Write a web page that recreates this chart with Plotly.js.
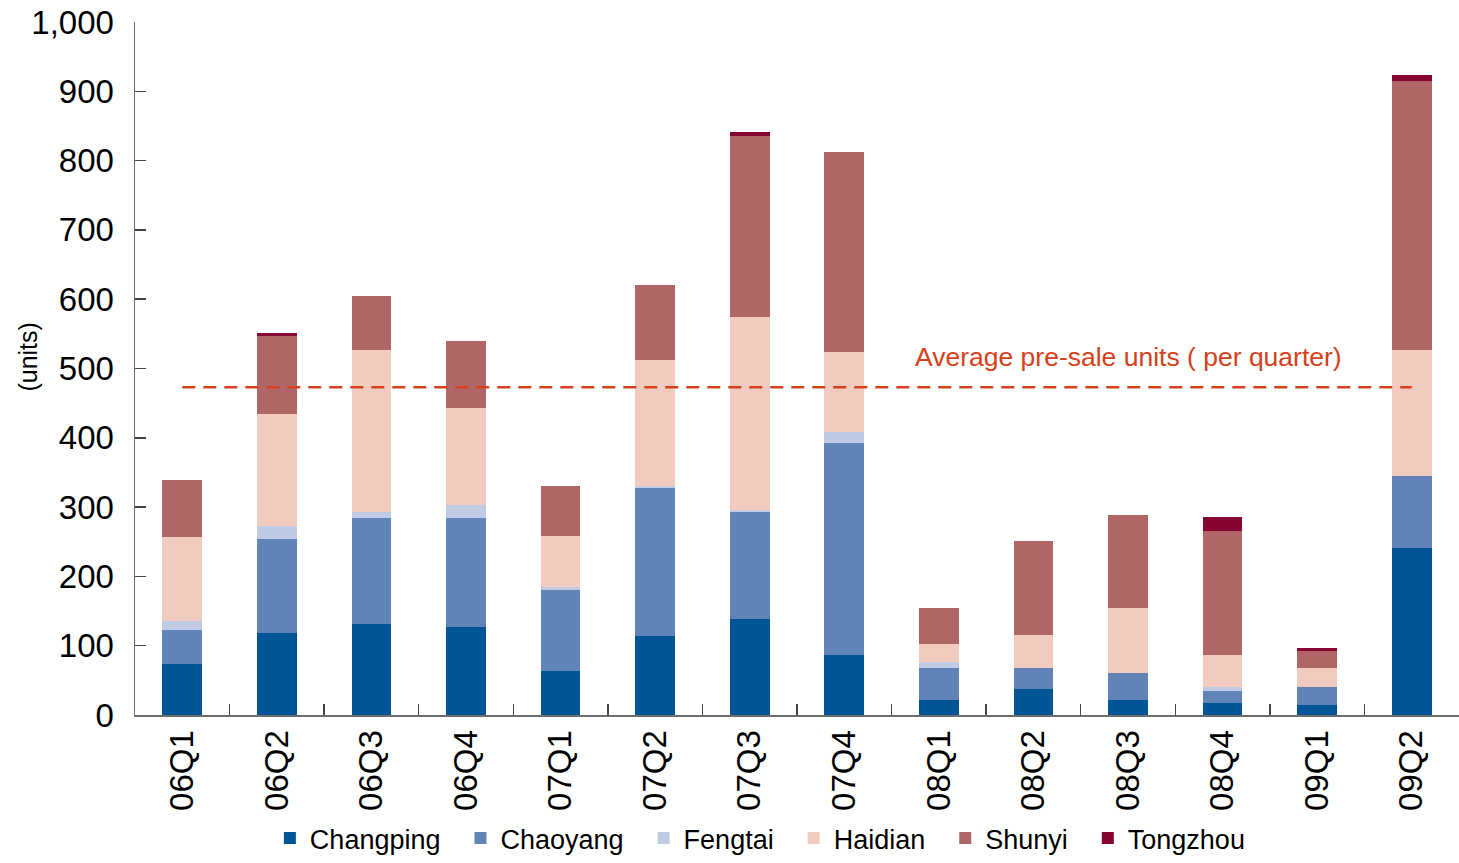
<!DOCTYPE html>
<html>
<head>
<meta charset="utf-8">
<script src="https://cdn.plot.ly/plotly-3.0.1.min.js"></script>
<style>
  body { margin: 0; background: #fff; }
  #chart { width: 1459px; height: 863px; }
</style>
</head>
<body>
<div id="chart"></div>
<script>
// quarters on the x axis
var quarters = ["06Q1","06Q2","06Q3","06Q4","07Q1","07Q2","07Q3","07Q4","08Q1","08Q2","08Q3","08Q4","09Q1","09Q2"];

// pre-sale units per district
var changping = [74, 118, 131, 127, 64, 114, 138, 87, 22, 38, 22, 18, 15, 241];
var chaoyang  = [49, 136, 153, 157, 116, 213, 155, 305, 46, 30, 39, 16, 26, 104];
var fengtai   = [12, 19, 9, 19, 4, 3, 3, 16, 8, 0, 0, 7, 0, 0];
var haidian   = [122, 161, 234, 140, 74, 182, 278, 116, 26, 47, 93, 46, 27, 182];
var shunyi    = [82, 113, 78, 97, 73, 108, 262, 288, 52, 136, 135, 178, 24, 388];
var tongzhou  = [0, 4, 0, 0, 0, 0, 5, 0, 0, 0, 0, 21, 4, 8];

// average pre-sale units per quarter
var average = [473, 473, 473, 473, 473, 473, 473, 473, 473, 473, 473, 473, 473, 473];

var FONT = 'Liberation Sans, Arial, sans-serif';
var PAD = '\u00a0\u00a0'; // a bit more room between legend entries

function barTrace(name, values, color){
  return {
    type: 'bar',
    name: name + PAD,
    x: quarters,
    y: values,
    marker: { color: color, line: { width: 0 } },
    hoverinfo: 'x+y+name'
  };
}

var data = [
  barTrace('Changping', changping, '#005596'),
  barTrace('Chaoyang',  chaoyang,  '#6084b7'),
  barTrace('Fengtai',   fengtai,   '#bfcbe3'),
  barTrace('Haidian',   haidian,   '#f2cbc0'),
  barTrace('Shunyi',    shunyi,    '#b06567'),
  barTrace('Tongzhou',  tongzhou,  '#870532'),
  {
    type: 'scatter',
    mode: 'lines',
    x: quarters,
    y: average,
    showlegend: false,
    line: { color: '#d6401a', width: 2.5, dash: '13px,8px' },
    hoverinfo: 'skip'
  }
];

var layout = {
  width: 1459,
  height: 863,
  barmode: 'stack',
  bargap: 0.58,
  margin: { l: 135, r: 0, t: 22, b: 148 },
  paper_bgcolor: '#ffffff',
  plot_bgcolor: '#ffffff',
  font: { family: FONT, color: '#000' },
  xaxis: {
    type: 'category',
    range: [-0.5, 13.5],
    showline: true,
    linecolor: '#6e6e6e',
    linewidth: 2,
    ticks: 'inside',
    tickson: 'boundaries',
    ticklen: 11,
    tickcolor: '#444',
    tickwidth: 1.5,
    tickangle: -90,
    tickfont: { size: 33, family: FONT },
    showgrid: false,
    zeroline: false
  },
  yaxis: {
    range: [0, 1000],
    dtick: 100,
    tickformat: ',d',
    showline: true,
    linecolor: '#6e6e6e',
    linewidth: 1.5,
    ticks: 'inside',
    ticklen: 11,
    tickcolor: '#444',
    tickwidth: 1.5,
    tickfont: { size: 33, family: FONT },
    ticklabelstandoff: 13,
    showgrid: false,
    zeroline: false
  },
  legend: {
    orientation: 'h',
    xref: 'paper',
    x: 0.478,
    xanchor: 'center',
    yref: 'container',
    y: 0,
    yanchor: 'bottom',
    font: { size: 27, family: FONT },
    traceorder: 'normal',
    itemwidth: 30
  },
  annotations: [
    {
      xref: 'paper', yref: 'paper',
      x: -0.093, y: 0.517,
      text: '(units)',
      textangle: -90,
      showarrow: false,
      font: { size: 25, family: FONT, color: '#000' }
    },
    {
      xref: 'x', yref: 'y',
      x: '08Q3', y: 517,
      text: 'Average pre-sale units ( per quarter)',
      showarrow: false,
      font: { size: 26.5, family: FONT, color: '#d6401a' }
    }
  ]
};

Plotly.newPlot('chart', data, layout, { displayModeBar: false, staticPlot: true });
</script>
</body>
</html>
